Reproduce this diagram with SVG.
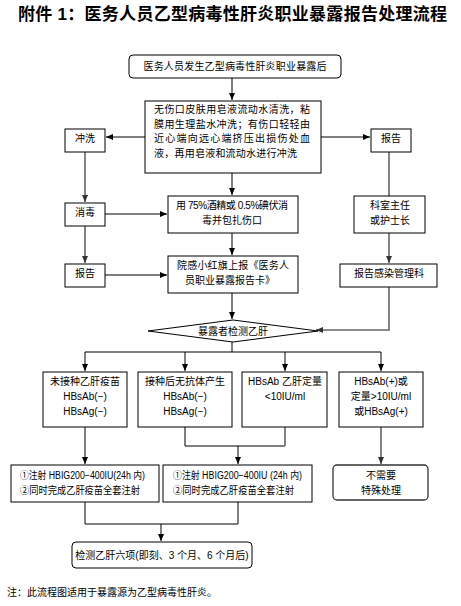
<svg xmlns="http://www.w3.org/2000/svg" width="461" height="606" viewBox="0 0 461 606">
<defs>
<marker id="ah" markerWidth="8" markerHeight="8" refX="7" refY="4" orient="auto" markerUnits="userSpaceOnUse">
<path d="M0,1 L7,4 L0,7 Z" fill="#000"/>
</marker>
<marker id="ahg" markerWidth="8" markerHeight="8" refX="7" refY="4" orient="auto" markerUnits="userSpaceOnUse">
<path d="M0,1 L7,4 L0,7 Z" fill="#333"/>
</marker>
<style>
.b{fill:#fff;stroke:#000;stroke-width:1}
.t{font-family:"Liberation Sans","Noto Sans CJK SC",sans-serif;font-size:10px;fill:#000}
.m{text-anchor:middle}
.c{fill:none;stroke:#000;stroke-width:1}
.g{fill:none;stroke:#666;stroke-width:1.6}
</style>
</defs>
<rect width="461" height="606" fill="#fff"/>
<text x="18" y="20" font-family="Liberation Sans,'Noto Sans CJK SC',sans-serif" font-size="17" font-weight="bold" textLength="429" lengthAdjust="spacing">附件 1：医务人员乙型病毒性肝炎职业暴露报告处理流程</text>

<g id="connectors">
<path class="c" d="M232,78 V100" marker-end="url(#ah)"/>
<path class="c" d="M145,137 H106" marker-end="url(#ah)"/>
<path class="c" d="M321,137 H370" marker-end="url(#ah)"/>
<path class="g" d="M85,152 V202" marker-end="url(#ahg)"/>
<path class="c" d="M232,173 V195" marker-end="url(#ah)"/>
<path class="g" d="M389,152 V196"/>
<path class="c" d="M105,214 H167" marker-end="url(#ah)"/>
<path class="g" d="M85,226 V263" marker-end="url(#ahg)"/>
<path class="c" d="M105,275 H167" marker-end="url(#ah)"/>
<path class="c" d="M232,233 V255" marker-end="url(#ah)"/>
<path class="g" d="M389,233 V263" marker-end="url(#ahg)"/>
<path class="g" d="M389,287 V330 H316" marker-end="url(#ahg)"/>
<path class="c" d="M232,293 V319" marker-end="url(#ah)"/>
<path class="c" d="M232,342 V352 M85,352 H381"/>
<path class="c" d="M85,352 V371" marker-end="url(#ah)"/>
<path class="c" d="M185,352 V371" marker-end="url(#ah)"/>
<path class="c" d="M285,352 V371" marker-end="url(#ah)"/>
<path class="c" d="M381,352 V371" marker-end="url(#ah)"/>
<path class="c" d="M85,427 V464" marker-end="url(#ah)"/>
<path class="c" d="M185,427 V446 H285"/>
<path class="g" d="M285,427 V446"/>
<path class="c" d="M238,446 V464" marker-end="url(#ah)"/>
<path class="g" d="M381,427 V464" marker-end="url(#ahg)"/>
<path class="c" d="M85,502 V524 H238 V502"/>
<path class="c" d="M161,524 V541" marker-end="url(#ah)"/>
</g>

<g id="n-start">
<rect class="b" x="129" y="55" width="212" height="23" rx="4"/>
<text class="t m" x="235" y="69.5" textLength="183" lengthAdjust="spacing">医务人员发生乙型病毒性肝炎职业暴露后</text>
</g>
<g id="n-wash-detail">
<rect class="b" x="145" y="101" width="176" height="72"/>
<text class="t" x="154" y="113" textLength="156" lengthAdjust="spacing">无伤口皮肤用皂液流动水清洗，粘</text>
<text class="t" x="154" y="127.5" textLength="156" lengthAdjust="spacing">膜用生理盐水冲洗；有伤口轻轻由</text>
<text class="t" x="154" y="142" textLength="156" lengthAdjust="spacing">近心端向远心端挤压出损伤处血</text>
<text class="t" x="154" y="157" textLength="143" lengthAdjust="spacing">液，再用皂液和流动水进行冲洗</text>
</g>
<g id="n-rinse">
<rect class="b" x="65" y="129" width="40" height="23"/>
<text class="t m" x="85" y="142">冲洗</text>
</g>
<g id="n-report-r">
<rect class="b" x="371" y="129" width="40" height="23"/>
<text class="t m" x="391" y="142">报告</text>
</g>
<g id="n-disinfect">
<rect class="b" x="65" y="203" width="40" height="23"/>
<text class="t m" x="85" y="216">消毒</text>
</g>
<g id="n-alcohol">
<rect class="b" x="168" y="196" width="130" height="37"/>
<text class="t m" x="232" y="209" textLength="112" lengthAdjust="spacing">用 75%酒精或 0.5%碘伏消</text>
<text class="t m" x="232" y="224">毒并包扎伤口</text>
</g>
<g id="n-head">
<rect class="b" x="354" y="196" width="71" height="37"/>
<text class="t m" x="390" y="209">科室主任</text>
<text class="t m" x="390" y="224">或护士长</text>
</g>
<g id="n-report-l">
<rect class="b" x="65" y="264" width="40" height="23"/>
<text class="t m" x="85" y="277">报告</text>
</g>
<g id="n-redflag">
<rect class="b" x="168" y="256" width="130" height="37"/>
<text class="t m" x="233" y="269" textLength="112" lengthAdjust="spacing">院感小红旗上报《医务人</text>
<text class="t m" x="230" y="284">员职业暴露报告卡》</text>
</g>
<g id="n-infection">
<rect class="b" x="340" y="264" width="97" height="23"/>
<text class="t m" x="389" y="277">报告感染管理科</text>
</g>
<g id="n-test">
<polygon class="b" points="148,331 233,320 318,331 233,342"/>
<text class="t m" x="233" y="334.5">暴露者检测乙肝</text>
</g>
<g id="n-a">
<rect class="b" x="43" y="372" width="84" height="55"/>
<text class="t m" x="85" y="385">未接种乙肝疫苗</text>
<text class="t m" x="85" y="400">HBsAb(−)</text>
<text class="t m" x="85" y="415">HBsAg(−)</text>
</g>
<g id="n-b">
<rect class="b" x="138" y="372" width="94" height="55"/>
<text class="t m" x="185" y="385">接种后无抗体产生</text>
<text class="t m" x="185" y="400">HBsAb(−)</text>
<text class="t m" x="185" y="415">HBsAg(−)</text>
</g>
<g id="n-c">
<rect class="b" x="242" y="372" width="85" height="55"/>
<text class="t m" x="285" y="385">HBsAb 乙肝定量</text>
<text class="t m" x="285" y="400">&lt;10IU/ml</text>
</g>
<g id="n-d">
<rect class="b" x="339" y="372" width="84" height="55"/>
<text class="t m" x="381" y="385">HBsAb(+)或</text>
<text class="t m" x="381" y="400">定量&gt;10IU/ml</text>
<text class="t m" x="381" y="415">或HBsAg(+)</text>
</g>
<g id="n-e">
<rect class="b" x="11" y="465" width="148" height="37"/>
<text class="t" x="20" y="479" textLength="125" lengthAdjust="spacingAndGlyphs">①注射 HBIG200−400IU(24h 内)</text>
<text class="t" x="20" y="494" textLength="120" lengthAdjust="spacingAndGlyphs">②同时完成乙肝疫苗全套注射</text>
</g>
<g id="n-f">
<rect class="b" x="163" y="465" width="149" height="37"/>
<text class="t" x="173" y="479" textLength="129" lengthAdjust="spacingAndGlyphs">①注射 HBIG200−400IU (24h 内)</text>
<text class="t" x="173" y="494" textLength="121" lengthAdjust="spacingAndGlyphs">②同时完成乙肝疫苗全套注射</text>
</g>
<g id="n-g">
<rect x="333" y="465" width="95" height="35" rx="4" fill="#fff" stroke="#333" stroke-width="1.3"/>
<text class="t m" x="381" y="479">不需要</text>
<text class="t m" x="381" y="494">特殊处理</text>
</g>
<g id="n-h">
<rect class="b" x="72" y="542" width="180" height="26" rx="4"/>
<text class="t m" x="162" y="558.5">检测乙肝六项(即刻、3 个月、6 个月后)</text>
</g>
<text class="t" x="7" y="595.5">注：此流程图适用于暴露源为乙型病毒性肝炎。</text>
</svg>
